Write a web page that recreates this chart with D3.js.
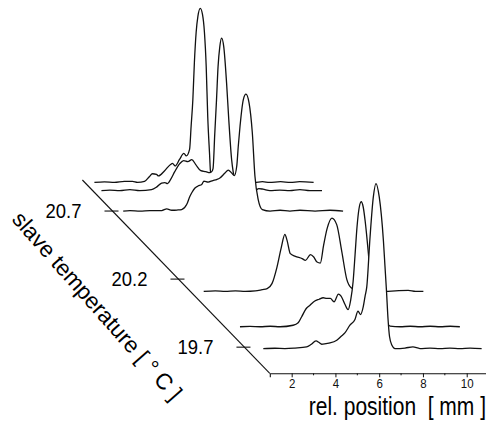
<!DOCTYPE html>
<html>
<head>
<meta charset="utf-8">
<script src="https://cdnjs.cloudflare.com/ajax/libs/d3/7.8.5/d3.min.js"></script>
<style>
  body { margin: 0; background: #fff; }
  svg { display: block; font-family: "Liberation Sans", Arial, sans-serif; }
  .trace { fill: none; stroke: #111; stroke-width: 1.3; }
  .mask { fill: #fff; stroke: none; }
  .axis-line { stroke: #111; stroke-width: 1.1; fill: none; }
</style>
</head>
<body>
<div id="chart"></div>
<script>
// slave temperature of each trace (back to front)
var temps = [20.91, 20.85, 20.70, 20.11, 19.85, 19.69];

// rel. position [mm] and intensity [a.u.] of each trace
var posA = [1.44,1.90,2.36,2.81,3.18,3.41,3.73,3.96,4.09,4.28,4.37,4.64,4.92,5.01,5.13,5.33,5.53,5.64,5.79,5.86,5.94,6.01,6.09,6.17,6.28,6.38,6.47,6.55,6.62,6.70,6.75,6.84,7.07,7.39,8.07,8.76,9.12,9.44,9.95,10.40,10.82,11.46];
var ampA = [0,0.5,0,1,1,0,1,6,8.7,8,6.5,11.5,18,19,16.5,23,29,26.5,33,56,83,120,150,166,174,168,150,116,66,30,10,5,2,0.5,0,0,0.8,0,0.8,0,0.8,0];

var posB = [1.40,1.78,2.24,2.70,3.15,3.69,3.92,4.15,4.30,4.42,4.57,4.75,4.98,5.16,5.35,5.53,5.71,5.94,6.17,6.35,6.44,6.50,6.58,6.66,6.73,6.81,6.89,6.99,7.12,7.22,7.35,7.42,7.54,7.72,7.99,8.27,8.45,8.59,8.78,9.10,9.55,10.01,10.47,10.93,11.48];
var ampB = [0,0.5,0,1,0,1,3.5,7.5,8,7,11.5,19,27,30,29,31,26,20,19,18,19,22,57,91,124,144,152.5,144,107.5,71,31,19,8,3,1,0,0.5,2,1.5,0,0.5,0,1,0,0];

var posC = [1.49,1.80,2.26,2.71,3.25,3.48,3.71,3.95,4.16,4.39,4.54,4.63,4.77,4.91,5.08,5.18,5.37,5.59,5.76,5.91,6.14,6.29,6.45,6.57,6.68,6.75,6.83,6.98,7.10,7.24,7.39,7.51,7.66,7.85,8.20,8.66,9.11,9.57,10.26,10.94,11.54];
var ampC = [0,0.5,0,0.5,0.5,2.2,0.8,1,1.5,6.5,14.8,18.5,23,25,26.5,30,29,30.5,31.5,33,38,41,38,35.5,45,65,85,111.5,117,108.5,78.5,35,11.5,1.5,0,0.8,0,0.8,0,0.8,0];

var posD = [1.61,2.14,2.60,3.06,3.51,3.97,4.28,4.51,4.73,4.96,5.16,5.32,5.42,5.57,5.80,6.11,6.26,6.49,6.64,6.79,6.94,7.09,7.25,7.47,7.69,7.92,8.15,8.35,8.54,8.86,9.23,9.91,10.37,10.96,11.29,11.65];
var ampD = [0,0.5,0,0.5,0,0.5,1.7,2.7,7.7,24.3,44.3,57,51,37.7,35,32.7,31,36.7,34.3,29.3,28.3,46,62.7,73.3,66.7,40,12,3.7,2,1,0.5,0,0.5,1,0,0];

var posE = [1.70,2.16,2.62,3.08,3.53,4.13,4.36,4.52,4.72,4.90,5.12,5.32,5.50,5.67,5.83,6.00,6.20,6.32,6.49,6.64,6.76,6.87,6.96,7.05,7.14,7.24,7.33,7.42,7.57,7.69,7.83,8.01,8.24,8.41,8.56,9.02,9.48,9.93,10.39,10.85,11.31,11.75];
var ampE = [0,0.3,0,0.5,0,1.5,4,10,18,21.5,25.7,27.5,29,28.4,28.4,25,32.7,30.7,22.7,17.2,26.7,45,72,100,118,125,120,106,73,42,17,7,3,3,0.7,0,0.5,0,0.5,0,0.5,0];

var posF = [1.80,2.33,2.79,3.25,3.78,3.98,4.21,4.35,4.47,4.67,4.85,5.16,5.35,5.53,5.76,5.99,6.13,6.24,6.37,6.45,6.53,6.68,6.83,6.95,7.10,7.29,7.36,7.43,7.50,7.57,7.68,7.82,8.28,8.64,8.96,9.42,9.88,10.33,10.79,11.25,11.78];
var ampF = [0,0.3,0,0.5,1.6,4,7.6,6,4.3,5,5.6,8.3,12,15.6,23.3,29,37.5,34,42,52,61.6,111.6,151.6,165,151.6,108,83,58,30,12,3.3,0,0.5,1.6,0,0.5,0,0.5,0,0.5,0];

// axis ticks
var xTicks = [2, 4, 6, 8, 10];
var xMinorTicks = [3, 5, 7, 9];
var tempTicks = [19.7, 20.2, 20.7];

var traces = [
  { pos: posA, amp: ampA },
  { pos: posB, amp: ampB },
  { pos: posC, amp: ampC },
  { pos: posD, amp: ampD },
  { pos: posE, amp: ampE },
  { pos: posF, amp: ampF }
];

var width = 486, height = 422;

var svg = d3.select('#chart').append('svg')
    .attr('width', width)
    .attr('height', height);

// front plane scales
var x = d3.scaleLinear().domain([1, 10.9]).range([269.8, 486.4]);
var yAmp = d3.scaleLinear().domain([0, 180]).range([373.3, 193.3]);

// depth (temperature) shifts the trace up and to the left
var tempDomain = [19.508, 20.928];
var depthX = d3.scaleLinear().domain(tempDomain).range([0, -187.4]);
var depthY = d3.scaleLinear().domain(tempDomain).range([0, -193.3]);

function px(mm, t) { return x(mm) + depthX(t); }
function py(a, t) { return yAmp(a) + depthY(t); }

// traces, back to front; white area hides the lines behind
traces.forEach(function (tr, i) {
    var t = temps[i];
    var pts = tr.pos.map(function (p, j) { return [p, tr.amp[j]]; });

    var area = d3.area()
        .x(function (d) { return px(d[0], t); })
        .y0(function (d) { return py(0, t) + 0.5; })
        .y1(function (d) { return py(d[1], t); })
        .curve(d3.curveMonotoneX);

    var line = d3.line()
        .x(function (d) { return px(d[0], t); })
        .y(function (d) { return py(d[1], t); })
        .curve(d3.curveMonotoneX);

    svg.append('path').datum(pts).attr('class', 'mask').attr('d', area);
    svg.append('path').datum(pts).attr('class', 'trace').attr('d', line);
});

// depth axis
svg.append('line')
    .attr('class', 'axis-line')
    .attr('x1', px(1, tempDomain[0])).attr('y1', py(0, tempDomain[0]))
    .attr('x2', px(1, tempDomain[1])).attr('y2', py(0, tempDomain[1]));

tempTicks.forEach(function (t) {
    var cx = px(1, t), cy = py(0, t);
    svg.append('line')
        .attr('class', 'axis-line')
        .attr('x1', cx - 8).attr('y1', cy)
        .attr('x2', cx + 6).attr('y2', cy);
    svg.append('text')
        .attr('transform', 'translate(' + (cx - 31) + ',' + (cy + 6.5) + ') scale(1,1.12)')
        .attr('text-anchor', 'end')
        .style('font-size', '18.5px')
        .text(t.toFixed(1));
});

// front x axis
var xAxis = svg.append('g')
    .attr('transform', 'translate(0,' + yAmp(0) + ')')
    .call(d3.axisBottom(x).tickValues(xTicks).tickSize(4).tickPadding(2).tickFormat(d3.format('d')));
xAxis.select('.domain').attr('stroke', '#111').attr('stroke-width', 1.1);
xAxis.selectAll('.tick line').attr('stroke', '#111');
xAxis.selectAll('text')
    .attr('y', 5.2)
    .attr('transform', 'scale(1,1.12)')
    .style('font-size', '11.5px')
    .style('font-family', '"Liberation Sans", Arial, sans-serif')
    .attr('fill', '#111');

xAxis.selectAll('.minor')
    .data(xMinorTicks)
    .enter()
    .append('line')
    .attr('class', 'minor')
    .attr('x1', function (d) { return x(d); })
    .attr('x2', function (d) { return x(d); })
    .attr('y1', 0).attr('y2', 2)
    .attr('stroke', '#111');

// axis titles
svg.append('text')
    .attr('transform', 'translate(486,415) scale(1,1.22)')
    .attr('text-anchor', 'end')
    .style('font-size', '21px')
    .style('white-space', 'pre')
    .text('rel. position  [ mm ]');

svg.append('text')
    .attr('transform', 'translate(11,220) rotate(48.5)')
    .style('font-size', '22.5px')
    .style('white-space', 'pre')
    .text('slave temperature [ \u00b0 C ]');
</script>
</body>
</html>
